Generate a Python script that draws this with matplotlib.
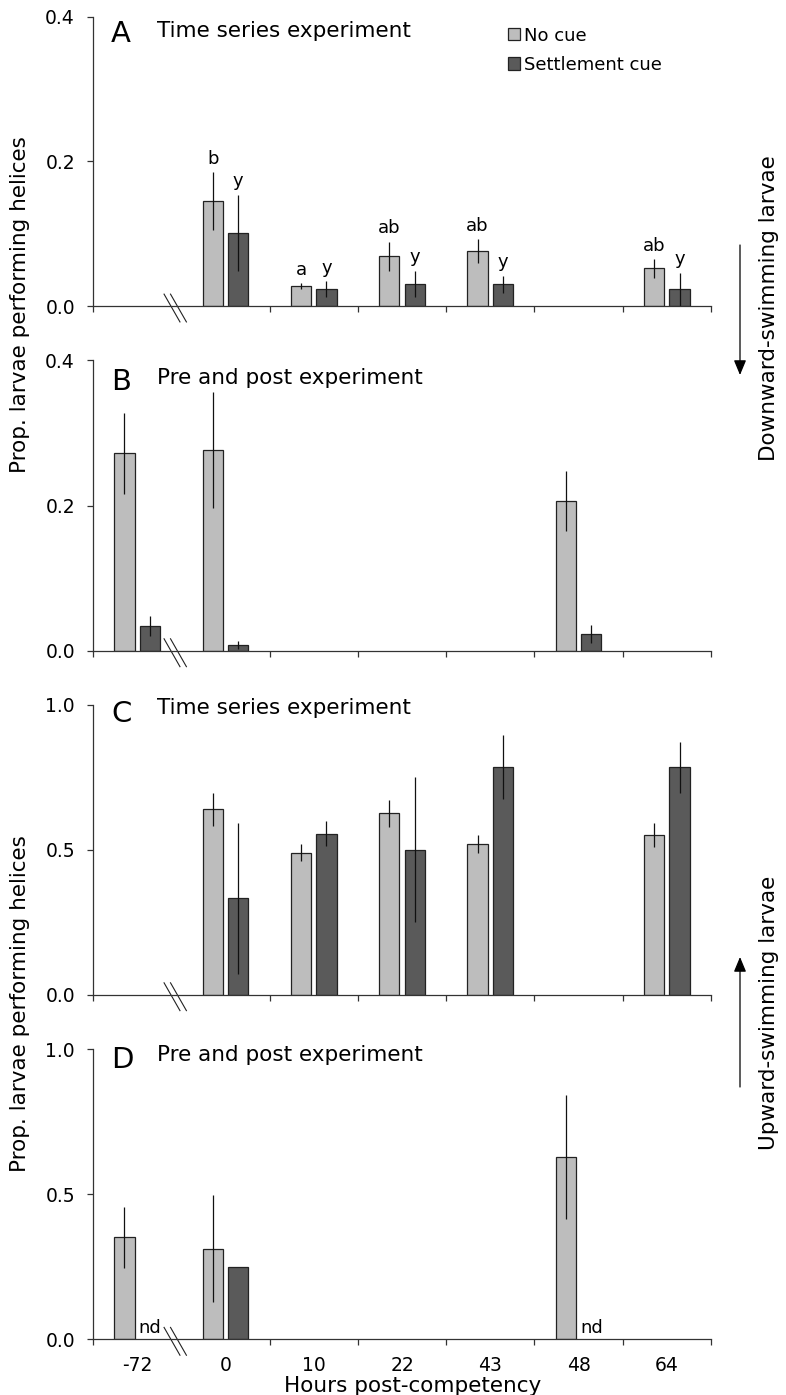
import numpy as np
import matplotlib.pyplot as plt

plt.rcParams['font.family'] = 'DejaVu Sans'

nan = np.nan

hours = ['-72', '0', '10', '22', '43', '48', '64']

# A - time series, downward-swimming larvae
a_nocue = [nan, 0.145, 0.028, 0.069, 0.076, nan, 0.052]
a_nocue_err = [nan, 0.040, 0.004, 0.020, 0.016, nan, 0.013]
a_cue = [nan, 0.101, 0.023, 0.031, 0.030, nan, 0.023]
a_cue_err = [nan, 0.053, 0.011, 0.018, 0.012, nan, 0.023]
a_let_nocue = ['', 'b', 'a', 'ab', 'ab', '', 'ab']
a_let_cue = ['', 'y', 'y', 'y', 'y', '', 'y']

# B - pre and post, downward-swimming larvae
b_nocue = [0.272, 0.277, nan, nan, nan, 0.206, nan]
b_nocue_err = [0.056, 0.080, nan, nan, nan, 0.041, nan]
b_cue = [0.034, 0.008, nan, nan, nan, 0.023, nan]
b_cue_err = [0.014, 0.006, nan, nan, nan, 0.013, nan]

# C - time series, upward-swimming larvae
c_nocue = [nan, 0.640, 0.490, 0.626, 0.520, nan, 0.551]
c_nocue_err = [nan, 0.056, 0.030, 0.047, 0.030, nan, 0.042]
c_cue = [nan, 0.333, 0.556, 0.501, 0.785, nan, 0.785]
c_cue_err = [nan, 0.260, 0.042, 0.250, 0.111, nan, 0.089]

# D - pre and post, upward-swimming larvae
d_nocue = [0.352, 0.313, nan, nan, nan, 0.628, nan]
d_nocue_err = [0.105, 0.185, nan, nan, nan, 0.213, nan]
d_cue = [nan, 0.249, nan, nan, nan, nan, nan]
d_cue_err = [nan, nan, nan, nan, nan, nan, nan]
d_nd = ['nd', '', '', '', '', 'nd', '']

light = '#bdbdbd'
dark = '#5a5a5a'
edge = '#222222'

W, H = 786, 1395
fig = plt.figure(figsize=(W / 100, H / 100), dpi=100)

# axes boxes in pixels: (top, bottom)
boxes = [(16.5, 306), (360.3, 650.7), (705, 994.7), (1049.3, 1339.3)]
left, right = 93, 711
axes = []
for top, bot in boxes:
    ax = fig.add_axes([left / W, 1 - bot / H, (right - left) / W, (bot - top) / H])
    axes.append(ax)

x = np.arange(len(hours))
off = 0.144
bw = 0.23


def draw_panel(ax, nocue, nocue_err, cue, cue_err, ymax, yticks):
    nocue = np.array(nocue)
    cue = np.array(cue)
    m1 = ~np.isnan(nocue)
    m2 = ~np.isnan(cue)
    b1 = ax.bar(x[m1] - off, nocue[m1], bw, color=light, edgecolor=edge, lw=0.9, label='No cue')
    b2 = ax.bar(x[m2] + off, cue[m2], bw, color=dark, edgecolor=edge, lw=0.9, label='Settlement cue')
    ax.errorbar(x - off, nocue, yerr=nocue_err, fmt='none', ecolor='#111111', elinewidth=0.9, capsize=0)
    ax.errorbar(x + off, cue, yerr=cue_err, fmt='none', ecolor='#111111', elinewidth=0.9, capsize=0)

    ax.set_xlim(-0.5, 6.5)
    ax.set_ylim(0, ymax)
    ax.set_yticks(yticks)
    ax.yaxis.set_major_formatter('{x:.1f}')
    ax.spines[['top', 'right']].set_visible(False)
    for s in ['left', 'bottom']:
        ax.spines[s].set_linewidth(0.9)
        ax.spines[s].set_color('#333333')
    ax.tick_params(axis='y', direction='out', length=4, width=0.9, color='#333333',
                   labelsize=13.5, pad=9)
    ax.set_xticks(x)
    ax.set_xticks([-0.5, 1.5, 2.5, 3.5, 4.5, 5.5, 6.5], minor=True)
    ax.tick_params(axis='x', which='major', length=0, labelsize=13.5, pad=12)
    ax.tick_params(axis='x', which='minor', direction='out', length=4, width=0.9, color='#333333')
    ax.set_xticklabels([])

    # axis break marks
    tr = ax.get_xaxis_transform()
    for cx in [0.395, 0.468]:
        ax.plot([cx - 0.09, cx + 0.09], [0.041, -0.055], transform=tr, color='#222222',
                lw=0.8, clip_on=False)
    return b1, b2


ax_a, ax_b, ax_c, ax_d = axes
h1, h2 = draw_panel(ax_a, a_nocue, a_nocue_err, a_cue, a_cue_err, 0.4, [0, 0.2, 0.4])
draw_panel(ax_b, b_nocue, b_nocue_err, b_cue, b_cue_err, 0.4, [0, 0.2, 0.4])
draw_panel(ax_c, c_nocue, c_nocue_err, c_cue, c_cue_err, 1.0, [0, 0.5, 1.0])
draw_panel(ax_d, d_nocue, d_nocue_err, d_cue, d_cue_err, 1.0, [0, 0.5, 1.0])

ax_d.set_xticklabels(hours)
ax_d.set_xlabel('Hours post-competency', fontsize=15.5)
ax_d.xaxis.set_label_coords(0.517, -0.128)

# significance letters over panel A
for i in range(len(hours)):
    if a_let_nocue[i]:
        ax_a.annotate(a_let_nocue[i], (x[i] - off, a_nocue[i] + a_nocue_err[i]),
                      xytext=(0, 3), textcoords='offset points', ha='center', va='bottom',
                      fontsize=13)
    if a_let_cue[i]:
        ax_a.annotate(a_let_cue[i], (x[i] + off, a_cue[i] + a_cue_err[i]),
                      xytext=(0, 3.5), textcoords='offset points', ha='center', va='bottom',
                      fontsize=13)

# no data labels in panel D
for i in range(len(hours)):
    if d_nd[i]:
        ax_d.annotate(d_nd[i], (x[i] + off, 0), xytext=(0, 4.5), textcoords='offset points',
                      ha='center', va='baseline', fontsize=13)

# panel letters and titles
panels = [(ax_a, 'A', 'Time series experiment', 0.940, 0.950),
          (ax_b, 'B', 'Pre and post experiment', 0.925, 0.940),
          (ax_c, 'C', 'Time series experiment', 0.970, 0.988),
          (ax_d, 'D', 'Pre and post experiment', 0.962, 0.982)]
for ax, lt, title, ly, ty in panels:
    ax.text(0.029, ly, lt, transform=ax.transAxes, fontsize=21, ha='left', va='center')
    ax.text(0.103, ty, title, transform=ax.transAxes, fontsize=15.5, ha='left', va='center')

ax_a.legend(handles=[h1, h2], loc='upper left', bbox_to_anchor=(0.6715, 0.965),
            frameon=False, fontsize=13, handlelength=0.66, handleheight=0.66,
            handletextpad=0.25, labelspacing=0.62, borderpad=0, borderaxespad=0)

# y labels shared by pairs of panels
fig.text(20 / W, 1 - 305 / H, 'Prop. larvae performing helices', rotation=90,
         ha='center', va='center', fontsize=15.5)
fig.text(20 / W, 1 - 1004 / H, 'Prop. larvae performing helices', rotation=90,
         ha='center', va='center', fontsize=15.5)

# right side swim direction labels and arrows
fig.text(769 / W, 1 - 308.5 / H, 'Downward-swimming larvae', rotation=90,
         ha='center', va='center', fontsize=15.5)
fig.text(769 / W, 1 - 1013 / H, 'Upward-swimming larvae', rotation=90,
         ha='center', va='center', fontsize=15.5)
arrow = dict(arrowstyle='-|>,head_length=0.6,head_width=0.25', color='black', lw=0.9,
             mutation_scale=15, shrinkA=0, shrinkB=0)
ax_a.annotate('', xy=(740 / W, 1 - 375 / H), xytext=(740 / W, 1 - 245 / H),
              xycoords='figure fraction', textcoords='figure fraction',
              arrowprops=arrow, annotation_clip=False)
ax_c.annotate('', xy=(740 / W, 1 - 957 / H), xytext=(740 / W, 1 - 1087 / H),
              xycoords='figure fraction', textcoords='figure fraction',
              arrowprops=arrow, annotation_clip=False)

fig.savefig('out.png', dpi=100)
